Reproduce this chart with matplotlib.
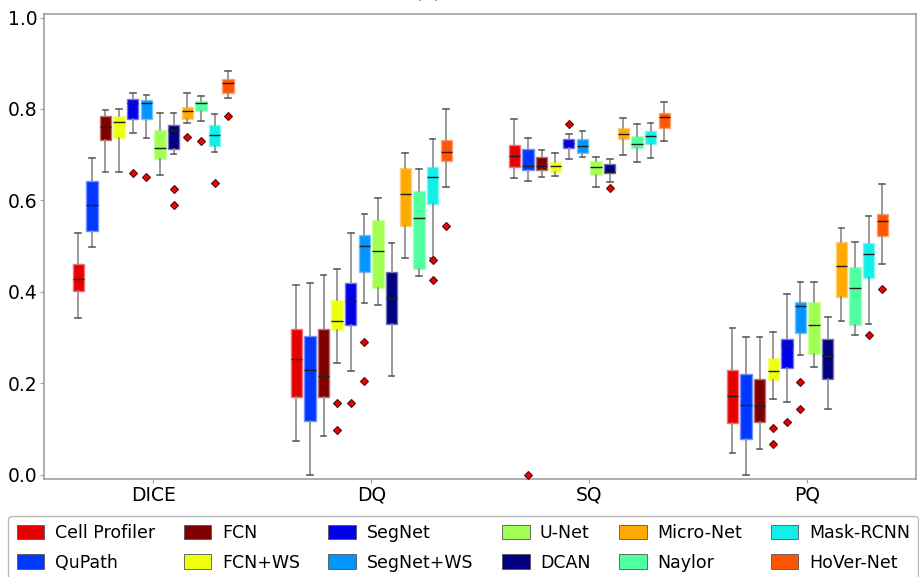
import numpy as np
import matplotlib
matplotlib.use("Agg")
from matplotlib import pyplot as plt
from matplotlib.patches import Patch

# metric groups along x and the methods inside each group
metrics = ['DICE', 'DQ', 'SQ', 'PQ']
methods = ['Cell Profiler', 'QuPath', 'FCN', 'FCN+WS', 'SegNet', 'SegNet+WS',
           'U-Net', 'DCAN', 'Micro-Net', 'Naylor', 'Mask-RCNN', 'HoVer-Net']
colors = ['#e80000', '#0038ff', '#800000', '#eeff10', '#0000e8', '#0095ff',
          '#a0ff50', '#000080', '#ffaa00', '#50ffa0', '#10f0e8', '#ff5500']

# box statistics, one row per method:
# [lower whisker, Q1, median, Q3, upper whisker]
dice = [[0.342, 0.402, 0.429, 0.462, 0.528],
        [0.499, 0.533, 0.589, 0.643, 0.693],
        [0.663, 0.732, 0.761, 0.785, 0.797],
        [0.662, 0.736, 0.771, 0.785, 0.801],
        [0.748, 0.779, 0.814, 0.821, 0.835],
        [0.736, 0.778, 0.812, 0.819, 0.831],
        [0.655, 0.691, 0.714, 0.753, 0.792],
        [0.702, 0.712, 0.753, 0.765, 0.792],
        [0.770, 0.779, 0.795, 0.804, 0.835],
        [0.774, 0.796, 0.812, 0.817, 0.828],
        [0.705, 0.719, 0.743, 0.766, 0.788],
        [0.823, 0.836, 0.857, 0.865, 0.884]]
dq = [[0.074, 0.171, 0.253, 0.318, 0.415],
      [0.000, 0.118, 0.229, 0.304, 0.419],
      [0.084, 0.171, 0.216, 0.318, 0.437],
      [0.245, 0.317, 0.336, 0.382, 0.451],
      [0.226, 0.328, 0.380, 0.420, 0.529],
      [0.376, 0.444, 0.501, 0.525, 0.571],
      [0.371, 0.408, 0.490, 0.557, 0.606],
      [0.216, 0.330, 0.386, 0.444, 0.507],
      [0.473, 0.543, 0.613, 0.670, 0.704],
      [0.434, 0.450, 0.561, 0.620, 0.669],
      [0.474, 0.593, 0.652, 0.674, 0.735],
      [0.629, 0.687, 0.705, 0.733, 0.799]]
sq = [[0.650, 0.672, 0.698, 0.722, 0.777],
      [0.642, 0.667, 0.675, 0.712, 0.736],
      [0.652, 0.666, 0.676, 0.694, 0.710],
      [0.653, 0.662, 0.676, 0.683, 0.703],
      [0.690, 0.715, 0.726, 0.735, 0.746],
      [0.695, 0.703, 0.718, 0.734, 0.752],
      [0.630, 0.655, 0.672, 0.686, 0.695],
      [0.640, 0.659, 0.662, 0.679, 0.691],
      [0.700, 0.734, 0.745, 0.758, 0.780],
      [0.683, 0.715, 0.724, 0.740, 0.767],
      [0.693, 0.723, 0.740, 0.751, 0.770],
      [0.731, 0.758, 0.782, 0.792, 0.816]]
pq = [[0.048, 0.113, 0.172, 0.229, 0.322],
      [0.000, 0.079, 0.153, 0.220, 0.302],
      [0.057, 0.116, 0.151, 0.210, 0.302],
      [0.165, 0.207, 0.228, 0.255, 0.313],
      [0.160, 0.234, 0.284, 0.298, 0.395],
      [0.261, 0.311, 0.369, 0.378, 0.421],
      [0.235, 0.264, 0.328, 0.377, 0.421],
      [0.143, 0.210, 0.260, 0.298, 0.346],
      [0.336, 0.389, 0.457, 0.508, 0.540],
      [0.305, 0.327, 0.408, 0.455, 0.510],
      [0.329, 0.431, 0.482, 0.507, 0.566],
      [0.461, 0.522, 0.556, 0.571, 0.635]]

# outliers per metric, per method
dice_out = [[], [], [], [], [0.659], [0.651], [], [0.626, 0.590],
            [0.739], [0.731], [0.639], [0.785]]
dq_out = [[], [], [], [0.157, 0.099], [0.157], [0.290, 0.205], [], [],
          [], [], [0.469, 0.425], [0.545]]
sq_out = [[], [0.0], [], [], [0.768], [], [], [0.628], [], [], [], []]
pq_out = [[], [], [], [0.103, 0.067], [0.115], [0.203, 0.144], [], [],
          [], [], [0.306], [0.406]]

all_stats = [dice, dq, sq, pq]
all_out = [dice_out, dq_out, sq_out, pq_out]


def lighten(c, f=0.45):
    rgb = np.array(matplotlib.colors.to_rgb(c))
    return tuple(rgb + (1 - rgb) * f)


fig = plt.figure(figsize=(9.2, 5.77), dpi=100)
ax = fig.add_axes([0.048, 0.170, 0.948, 0.806])

step = 1.0 / 16
for g in range(len(metrics)):
    for i in range(len(methods)):
        lo, q1, med, q3, hi = all_stats[g][i]
        st = [dict(whislo=lo, q1=q1, med=med, q3=q3, whishi=hi,
                   fliers=np.array(all_out[g][i]))]
        pos = g + 1 + (i - 5.5) * step
        ax.bxp(st, positions=[pos], widths=0.052, patch_artist=True,
               manage_ticks=False,
               boxprops=dict(facecolor=colors[i], edgecolor=lighten(colors[i]), linewidth=1.0),
               medianprops=dict(color='#202020', linewidth=1.0),
               whiskerprops=dict(color='#8a8a8a', linewidth=1.2),
               capprops=dict(color='#606060', linewidth=1.2),
               flierprops=dict(marker='D', markerfacecolor='#ee0000',
                               markeredgecolor='#501010', markersize=4.5,
                               markeredgewidth=0.8),
               zorder=3)

ax.set_xlim(0.5, 4.5)
ax.set_ylim(-0.009, 1.008)
ax.set_xticks(range(1, len(metrics) + 1))
ax.set_xticklabels(metrics, fontsize=13.5)
ax.set_yticks([0.0, 0.2, 0.4, 0.6, 0.8, 1.0])
ax.set_yticklabels(['0.0', '0.2', '0.4', '0.6', '0.8', '1.0'], fontsize=13.5)
for sp in ax.spines.values():
    sp.set_color('#a0a0a0')
    sp.set_linewidth(1.2)
ax.tick_params(axis='both', colors='#a0a0a0', labelcolor='black', length=3, pad=2)

# title sits mostly above the canvas in the reference
fig.text(0.465, 1.014, '(a)', ha='center', va='center', fontsize=14)

handles = [Patch(facecolor=c, edgecolor='#555555', linewidth=0.6) for c in colors]
leg = fig.legend(handles, methods, ncol=6, loc='upper left',
                 bbox_to_anchor=(0.009, 0.0, 0.989, 0.106), mode='expand',
                 fontsize=12.5, frameon=True, fancybox=True,
                 handlelength=1.6, handleheight=0.9, handletextpad=0.6,
                 borderpad=0.48, labelspacing=0.66, borderaxespad=0.0)
leg.get_frame().set_edgecolor('#a8a8a8')
leg.get_frame().set_linewidth(1.0)

plt.savefig('out.png', dpi=100)
plt.close()
